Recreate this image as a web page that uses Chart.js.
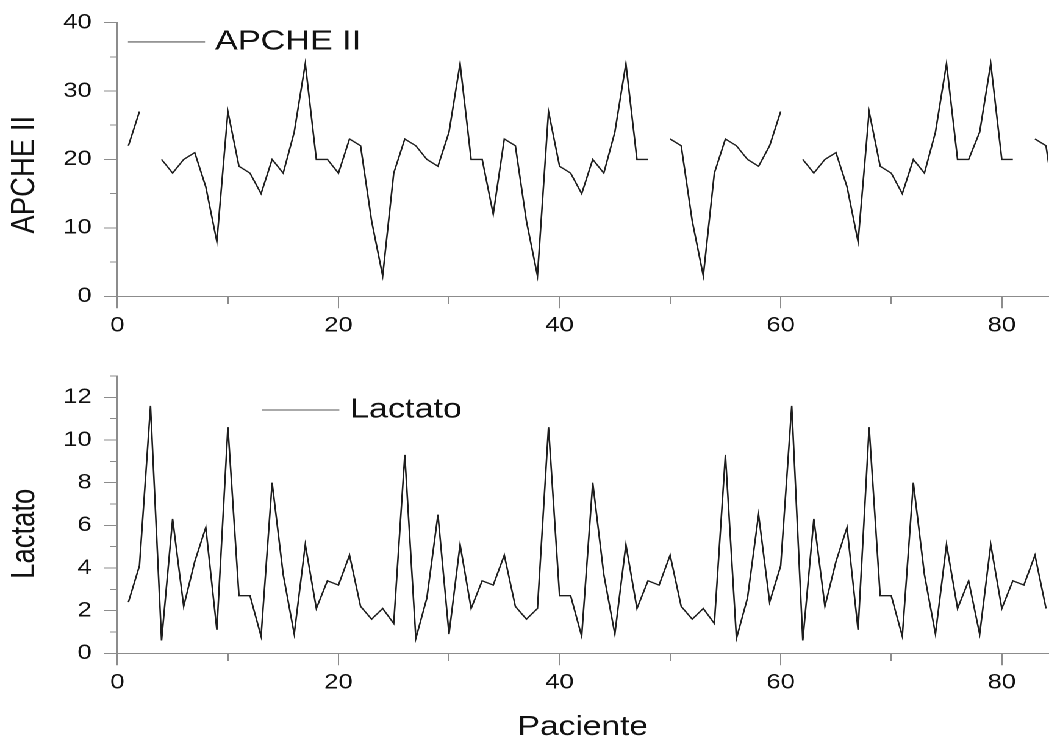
<!DOCTYPE html>
<html><head><meta charset="utf-8">
<script src="https://cdn.jsdelivr.net/npm/chart.js@4"></script>
<style>
html,body{margin:0;padding:0;background:#fff;overflow:hidden;width:1049px;height:741px;}
#stage{position:absolute;left:0;top:0;width:860px;height:741px;transform:scaleX(1.2198);transform-origin:0 0;}
#top{position:absolute;left:0;top:0;width:860px;height:340px;}
#bot{position:absolute;left:0;top:340px;width:860px;height:401px;}
</style></head><body>
<div id="stage"><div id="top"><canvas id="c1"></canvas></div><div id="bot"><canvas id="c2"></canvas></div></div>
<script>
// ---- data ----
const patientsApache = [1,2,3,4,5,6,7,8,9,10,11,12,13,14,15,16,17,18,19,20,21,22,23,24,25,26,27,28,29,30,31,32,33,34,35,36,37,38,39,40,41,42,43,44,45,46,47,48,49,50,51,52,53,54,55,56,57,58,59,60,61,62,63,64,65,66,67,68,69,70,71,72,73,74,75,76,77,78,79,80,81,82,83,84,85];
const apache = [22,27,null,20,18,20,21,16,8,27,19,18,15,20,18,24,34,20,20,18,23,22,11,3,18,23,22,20,19,24,34,20,20,12,23,22,11,3,27,19,18,15,20,18,24,34,20,20,null,23,22,11,3,18,23,22,20,19,22,27,null,20,18,20,21,16,8,27,19,18,15,20,18,24,34,20,20,24,34,20,20,null,23,22,11];
const patientsLactato = [1,2,3,4,5,6,7,8,9,10,11,12,13,14,15,16,17,18,19,20,21,22,23,24,25,26,27,28,29,30,31,32,33,34,35,36,37,38,39,40,41,42,43,44,45,46,47,48,49,50,51,52,53,54,55,56,57,58,59,60,61,62,63,64,65,66,67,68,69,70,71,72,73,74,75,76,77,78,79,80,81,82,83,84];
const lactato = [2.4,4.1,11.6,0.6,6.3,2.2,4.3,5.9,1.1,10.6,2.7,2.7,0.8,8.0,3.7,0.9,5.1,2.1,3.4,3.2,4.6,2.2,1.6,2.1,1.4,9.3,0.7,2.6,6.5,0.9,5.1,2.1,3.4,3.2,4.6,2.2,1.6,2.1,10.6,2.7,2.7,0.8,8.0,3.7,0.9,5.1,2.1,3.4,3.2,4.6,2.2,1.6,2.1,1.4,9.3,0.7,2.6,6.5,2.4,4.1,11.6,0.6,6.3,2.2,4.3,5.9,1.1,10.6,2.7,2.7,0.8,8.0,3.7,0.9,5.1,2.1,3.4,0.9,5.1,2.1,3.4,3.2,4.6,2.1];
const xTickLabels = [0,20,40,60,80];
const yTickLabelsApache = [0,10,20,30,40];
const yTickLabelsLactato = [0,2,4,6,8,10,12];

// ---- style ----
const AXIS = '#8c8c8c';
const INK = '#111111';
const LINE = '#1e1e1e';
const FONT = "'Liberation Sans', Arial, sans-serif";

function xScale(height, title) {
  return {
    type: 'linear', min: 0, max: 84.2,
    border: {display: true, color: AXIS, width: 1},
    grid: {
      display: true, drawOnChartArea: false, drawTicks: true, tickLength: 12,
      tickColor: AXIS, tickWidth: 1,
      tickBorderDash: c => xTickLabels.includes(c.tick.value) ? [] : [7, 100]
    },
    ticks: {
      stepSize: 10, includeBounds: false, autoSkip: false, maxRotation: 0, minRotation: 0,
      padding: 5, color: INK, font: {family: FONT, size: 21},
      callback: v => xTickLabels.includes(v) ? String(v) : ''
    },
    title: title ? {display: true, text: title, color: INK,
      font: {family: FONT, size: 27.5, lineHeight: 1}, padding: {top: 0, bottom: 0}} : {display: false},
    afterFit: s => { s.height = height; }
  };
}
function yScale(max, step, labels, title) {
  const TL = 11, MINOR = 6;
  return {
    type: 'linear', min: 0, max: max,
    border: {display: true, color: AXIS, width: 1},
    grid: {
      display: true, drawOnChartArea: false, drawTicks: true, tickLength: TL,
      tickColor: AXIS, tickWidth: 1,
      tickBorderDash: c => labels.includes(c.tick.value) ? [] : [MINOR, 100],
      tickBorderDashOffset: c => labels.includes(c.tick.value) ? 0 : -(TL - MINOR)
    },
    ticks: {
      stepSize: step, autoSkip: false, padding: 10, color: INK, font: {family: FONT, size: 21},
      callback: v => labels.includes(v) ? String(v) : ''
    },
    title: {display: true, text: title, color: INK,
      font: {family: FONT, size: 27.5, lineHeight: 1.2}, padding: {top: 4, bottom: 0}},
    afterFit: s => { s.width = 96.2; }
  };
}

const inlineLegend = {
  id: 'inlineLegend',
  afterDatasetsDraw(chart, args, opts) {
    const {ctx, chartArea} = chart;
    const ds = chart.data.datasets[0];
    const x0 = chartArea.left + opts.dx, y0 = chartArea.top + opts.dy;
    ctx.save();
    ctx.strokeStyle = '#555'; ctx.lineWidth = 1.1;
    ctx.beginPath(); ctx.moveTo(x0, y0); ctx.lineTo(x0 + opts.len, y0); ctx.stroke();
    ctx.fillStyle = INK; ctx.font = '28px ' + FONT;
    ctx.textBaseline = 'middle'; ctx.textAlign = 'left';
    ctx.fillText(ds.label, x0 + opts.len + opts.gap, y0);
    ctx.restore();
  }
};

function makeChart(id, xs, ys, label, yOpts, xOpts, pad, legendOpts) {
  return new Chart(document.getElementById(id), {
    type: 'line',
    data: {
      datasets: [{
        label: label,
        data: xs.map((x, i) => ({x: x, y: ys[i]})),
        borderColor: LINE, borderWidth: 1.3, pointRadius: 0, pointHoverRadius: 0,
        fill: false, tension: 0, spanGaps: false
      }]
    },
    options: {
      responsive: true, maintainAspectRatio: false, animation: false,
      devicePixelRatio: 2,
      layout: {padding: pad},
      plugins: {legend: {display: false}, tooltip: {enabled: false}, inlineLegend: legendOpts},
      scales: {x: xOpts, y: yOpts}
    },
    plugins: [inlineLegend]
  });
}

makeChart('c1', patientsApache, apache, 'APCHE II',
  yScale(40, 5, yTickLabelsApache, 'APCHE II    '),
  xScale(43.7, null),
  {left: 0, top: 20.7, right: 0, bottom: 0},
  {dx: 8.7, dy: 19.3, len: 63.2, gap: 8.2});

makeChart('c2', patientsLactato, lactato, 'Lactato',
  yScale(13, 1, yTickLabelsLactato, 'Lactato     '),
  xScale(87.7, 'Paciente'),
  {left: 0, top: 36, right: 0, bottom: 0},
  {dx: 118.3, dy: 34, len: 63.7, gap: 8.7});
</script>
</body></html>
